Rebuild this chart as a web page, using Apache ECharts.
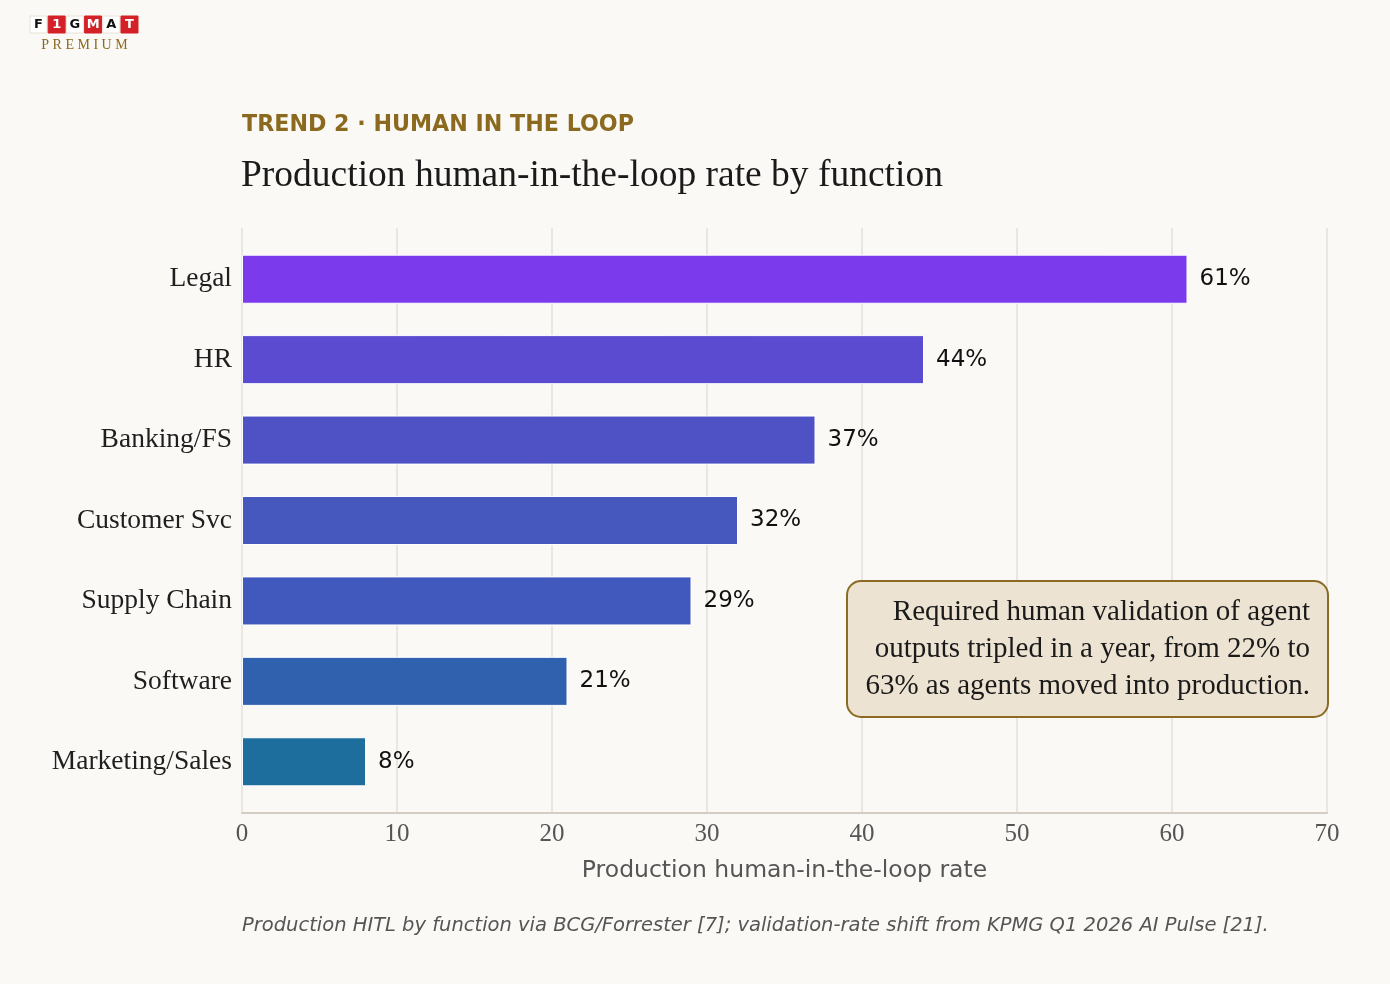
<!DOCTYPE html>
<html>
<head>
<meta charset="utf-8">
<script src="https://cdn.jsdelivr.net/npm/echarts@6/dist/echarts.min.js"></script>
<style>
  html, body { margin: 0; padding: 0; background: #faf9f6; }
  #chartDom { width: 1390px; height: 984px; }
</style>
</head>
<body>
<div id="chartDom"></div>
<script>
// data
const functions = ['Legal', 'HR', 'Banking/FS', 'Customer Svc', 'Supply Chain', 'Software', 'Marketing/Sales'];
const hitlRate = [61, 44, 37, 32, 29, 21, 8];
const barColors = ['#7c3aed', '#5b4bd0', '#4f52c4', '#4657be', '#4159bc', '#3061ae', '#1d6e9c'];
const xTicks = [0, 10, 20, 30, 40, 50, 60, 70];

const serif = '"Liberation Serif", "DejaVu Serif", serif';
const sans = '"DejaVu Sans", sans-serif';

let chart = echarts.init(document.getElementById('chartDom'));

// logo letters (white / red boxes)
const logoLetters = ['F', '1', 'G', 'M', 'A', 'T'];
const logoEls = [];
logoLetters.forEach((ch, i) => {
  const red = i % 2 === 1;
  logoEls.push({
    type: 'rect',
    shape: { x: 30 + i * 18.2, y: 16, width: 17, height: 17 },
    style: { fill: red ? '#d42027' : '#ffffff', stroke: red ? '#d42027' : '#e8e2d6', lineWidth: 1 }
  });
  logoEls.push({
    type: 'text',
    x: 30 + i * 18.2 + 8.5, y: 25,
    style: { text: ch, fill: red ? '#ffffff' : '#111111', font: 'bold 13px ' + sans, textAlign: 'center', textVerticalAlign: 'middle' }
  });
});
logoEls.push({
  type: 'text', x: 84.5, y: 45,
  style: { text: 'P R E M I U M', fill: '#8b6a1f', font: '14px ' + serif, textAlign: 'center', textVerticalAlign: 'middle' }
});

chart.setOption({
  backgroundColor: '#faf9f6',
  animation: false,
  title: [
    {
      text: 'TREND 2 · HUMAN IN THE LOOP',
      left: 242, top: 114,
      padding: 0,
      textStyle: { fontFamily: sans, fontWeight: 'bold', fontSize: 22.2, color: '#8b6a1f' }
    },
    {
      text: 'Production human-in-the-loop rate by function',
      left: 241, top: 157,
      padding: 0,
      textStyle: { fontFamily: serif, fontWeight: 'normal', fontSize: 37.5, color: '#1a1a1a' }
    },
    {
      text: 'Production HITL by function via BCG/Forrester [7]; validation-rate shift from KPMG Q1 2026 AI Pulse [21].',
      left: 242, top: 916,
      padding: 0,
      textStyle: { fontFamily: sans, fontStyle: 'italic', fontWeight: 'normal', fontSize: 19.5, color: '#555555' }
    }
  ],
  grid: [
    // frame: gridlines, axis line, ticks
    { left: 242, top: 228, width: 1085, height: 585 },
    // bars
    { left: 242, top: 239, width: 1085, height: 563 }
  ],
  xAxis: [
    {
      gridIndex: 0,
      type: 'value',
      min: 0, max: 70, interval: 10,
      axisLine: { show: true, lineStyle: { color: '#d3cdc3', width: 2 } },
      axisTick: { show: false },
      splitLine: { show: true, lineStyle: { color: '#e4e0d9', width: 1.5 } },
      axisLabel: {
        margin: 9,
        fontFamily: serif, fontSize: 25, color: '#555555',
        formatter: v => xTicks.includes(v) ? String(v) : ''
      },
      name: 'Production human-in-the-loop rate',
      nameLocation: 'middle',
      nameGap: 46,
      nameTextStyle: { fontFamily: sans, fontSize: 23.5, color: '#555555' }
    },
    {
      gridIndex: 1,
      type: 'value',
      min: 0, max: 70,
      show: false
    }
  ],
  yAxis: [
    {
      gridIndex: 0,
      type: 'value',
      show: false
    },
    {
      gridIndex: 1,
      type: 'category',
      data: functions,
      inverse: true,
      axisLine: { show: false },
      axisTick: { show: false },
      splitLine: { show: false },
      axisLabel: { margin: 10, padding: [6, 0, 0, 0], fontFamily: serif, fontSize: 27.5, color: '#1f1f1f' }
    }
  ],
  series: [
    {
      type: 'bar',
      xAxisIndex: 1,
      yAxisIndex: 1,
      barCategoryGap: '39%',
      data: hitlRate.map((v, i) => ({
        value: v,
        itemStyle: { color: barColors[i], borderColor: '#ffffff', borderWidth: 1 }
      })),
      label: {
        show: true,
        position: 'right',
        distance: 12,
        padding: [3, 0, 0, 0],
        formatter: p => p.value + '%',
        fontFamily: sans, fontSize: 23, color: '#111111'
      }
    }
  ],
  graphic: [
    { type: 'group', children: logoEls },
    {
      type: 'rect',
      shape: { x: 847, y: 581, width: 481, height: 136, r: 14 },
      style: { fill: '#ede3d2', stroke: '#8b6a24', lineWidth: 2 },
      z: 10
    },
    {
      type: 'text',
      x: 1310, y: 649,
      z: 11,
      style: {
        text: 'Required human validation of agent\noutputs tripled in a year, from 22% to\n63% as agents moved into production.',
        fill: '#1a1a1a',
        font: '29px ' + serif,
        lineHeight: 37,
        textAlign: 'right',
        textVerticalAlign: 'middle'
      }
    }
  ]
});
</script>
</body>
</html>
